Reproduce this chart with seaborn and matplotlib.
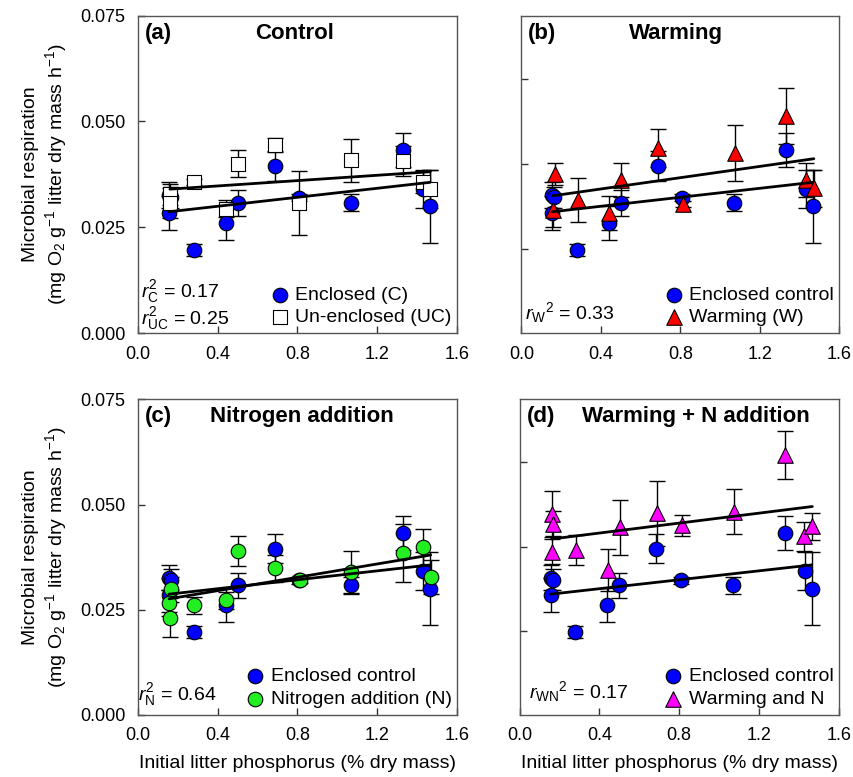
import numpy as np
import pandas as pd
import seaborn as sns
import matplotlib.pyplot as plt

# Enclosed control (same series in every panel)
p_enc = [0.155, 0.165, 0.155, 0.28, 0.44, 0.50, 0.685, 0.81, 1.07, 1.33, 1.43, 1.465]
r_enc = [0.0326, 0.0321, 0.0285, 0.0197, 0.0261, 0.0308, 0.0395, 0.0320, 0.0308, 0.0432, 0.0341, 0.0300]
e_enc = [0.0030, 0.0025, 0.0040, 0.0015, 0.0040, 0.0030, 0.0035, 0.0008, 0.0020, 0.0040, 0.0045, 0.0086]

# Un-enclosed control
p_uc = [0.16, 0.16, 0.28, 0.44, 0.50, 0.685, 0.81, 1.07, 1.33, 1.43, 1.465]
r_uc = [0.0328, 0.0308, 0.0357, 0.0294, 0.0400, 0.0445, 0.0307, 0.0408, 0.0406, 0.0357, 0.0340]
e_uc = [0.0025, 0.0035, 0.0008, 0.0020, 0.0032, 0.0017, 0.0075, 0.0050, 0.0035, 0.0025, 0.0045]

# Warming
p_w = [0.17, 0.158, 0.283, 0.443, 0.503, 0.689, 0.813, 1.074, 1.332, 1.43, 1.471]
r_w = [0.0376, 0.0291, 0.0315, 0.0283, 0.0362, 0.0437, 0.0305, 0.0425, 0.0514, 0.0362, 0.0342]
e_w = [0.0025, 0.0040, 0.0052, 0.0040, 0.0040, 0.0045, 0.0008, 0.0066, 0.0066, 0.0040, 0.0043]

# Nitrogen addition
p_n = [0.164, 0.156, 0.161, 0.279, 0.441, 0.50, 0.685, 0.814, 1.07, 1.327, 1.428, 1.468]
r_n = [0.0298, 0.0266, 0.0231, 0.0260, 0.0272, 0.0389, 0.0348, 0.0321, 0.0340, 0.0385, 0.0398, 0.0328]
e_n = [0.0030, 0.0030, 0.0046, 0.0020, 0.0020, 0.0035, 0.0032, 0.0008, 0.0050, 0.0068, 0.0045, 0.0040]

# Warming + N
p_wn = [0.162, 0.165, 0.16, 0.283, 0.442, 0.505, 0.69, 0.813, 1.073, 1.329, 1.424, 1.468]
r_wn = [0.0478, 0.0454, 0.0388, 0.0392, 0.0345, 0.0446, 0.0479, 0.0451, 0.0483, 0.0618, 0.0424, 0.0448]
e_wn = [0.0055, 0.0030, 0.0030, 0.0035, 0.0050, 0.0065, 0.0077, 0.0025, 0.0054, 0.0057, 0.0034, 0.0032]

sns.set_style("ticks")
plt.rcParams['font.family'] = ['Liberation Sans', 'DejaVu Sans']
plt.rcParams['mathtext.fontset'] = 'custom'
plt.rcParams['mathtext.rm'] = 'Liberation Sans'
plt.rcParams['mathtext.it'] = 'Liberation Sans:style=italic'
plt.rcParams['mathtext.bf'] = 'Liberation Sans:bold'
for key in ('text.color', 'axes.labelcolor', 'xtick.color', 'ytick.color'):
    plt.rcParams[key] = 'black'

fig = plt.figure(figsize=(8.54, 7.77), dpi=100)
ax_a = fig.add_axes([0.1616, 0.571, 0.3735, 0.409])
ax_b = fig.add_axes([0.6105, 0.571, 0.3725, 0.409])
ax_c = fig.add_axes([0.1616, 0.080, 0.3735, 0.406])
ax_d = fig.add_axes([0.6085, 0.080, 0.3735, 0.406])


def draw_series(ax, x, y, err, color, marker, label):
    df = pd.DataFrame({'p': x, 'r': y})
    ax.errorbar(x, y, yerr=err, fmt='none', ecolor='black', elinewidth=1,
                capsize=6, capthick=1, zorder=1)
    size = 125 if marker == '^' else 110
    sns.scatterplot(data=df, x='p', y='r', ax=ax, color=color, marker=marker,
                    s=size, edgecolor='black', linewidth=0.8, label=label, zorder=2)
    sns.regplot(data=df, x='p', y='r', ax=ax, scatter=False, ci=None,
                line_kws={'color': 'black', 'lw': 2, 'zorder': 3})


draw_series(ax_a, p_enc, r_enc, e_enc, '#0000ff', 'o', 'Enclosed (C)')
draw_series(ax_a, p_uc, r_uc, e_uc, 'white', 's', 'Un-enclosed (UC)')
draw_series(ax_b, p_enc, r_enc, e_enc, '#0000ff', 'o', 'Enclosed control')
draw_series(ax_b, p_w, r_w, e_w, '#ff0000', '^', 'Warming (W)')
draw_series(ax_c, p_enc, r_enc, e_enc, '#0000ff', 'o', 'Enclosed control')
draw_series(ax_c, p_n, r_n, e_n, '#22ee22', 'o', 'Nitrogen addition (N)')
draw_series(ax_d, p_enc, r_enc, e_enc, '#0000ff', 'o', 'Enclosed control')
draw_series(ax_d, p_wn, r_wn, e_wn, '#ff00ff', '^', 'Warming and N')

titles = [(ax_a, '(a)', 'Control', 0.49),
          (ax_b, '(b)', 'Warming', 0.485),
          (ax_c, '(c)', 'Nitrogen addition', 0.515),
          (ax_d, '(d)', 'Warming + N addition', 0.552)]
for ax, tag, name, xc in titles:
    ax.set_xlim(0, 1.6)
    ax.set_ylim(0, 0.075)
    ax.set_xticks([0.0, 0.4, 0.8, 1.2, 1.6])
    ax.set_xticklabels(['0.0', '0.4', '0.8', '1.2', '1.6'])
    ax.tick_params(direction='in', length=5, width=1, labelsize=13, pad=9, color='#333333')
    for sp in ax.spines.values():
        sp.set_visible(True)
        sp.set_color('#555555')
        sp.set_linewidth(1)
    ax.set_xlabel('')
    ax.set_ylabel('')
    ax.text(0.022, 0.945, tag, transform=ax.transAxes, fontsize=16,
            fontweight='bold', ha='left', va='center')
    ax.text(xc, 0.945, name, transform=ax.transAxes, fontsize=16,
            fontweight='bold', ha='center', va='center')
    ax.legend(loc='lower right', bbox_to_anchor=(1.02, -0.015), frameon=False,
              fontsize=14, handletextpad=0.2, handlelength=1.2,
              borderaxespad=0.2, labelspacing=0.25, markerscale=1.0)

for ax in (ax_a, ax_c):
    ax.set_yticks([0.0, 0.025, 0.05, 0.075])
    ax.set_yticklabels(['0.000', '0.025', '0.050', '0.075'])
    ax.set_ylabel('Microbial respiration\n(mg O$_2$ g$^{-1}$ litter dry mass h$^{-1}$)',
                  fontsize=14, labelpad=8)
for ax in (ax_b, ax_d):
    ax.set_yticks([0.02, 0.04, 0.06])
    ax.set_yticklabels([])
for ax in (ax_c, ax_d):
    ax.set_xlabel('Initial litter phosphorus (% dry mass)', fontsize=14, labelpad=8)

ax_a.text(0.01, 0.13, r'$\mathit{r}^2_{\mathrm{C}}$ = 0.17', transform=ax_a.transAxes,
          fontsize=14, ha='left', va='center')
ax_a.text(0.01, 0.045, r'$\mathit{r}^2_{\mathrm{UC}}$ = 0.25', transform=ax_a.transAxes,
          fontsize=14, ha='left', va='center')
ax_b.text(0.01, 0.065, r'$\mathit{r}_{\mathrm{W}}{}^2$ = 0.33', transform=ax_b.transAxes,
          fontsize=14, ha='left', va='center')
ax_c.text(0.0, 0.065, r'$\mathit{r}^2_{\mathrm{N}}$ = 0.64', transform=ax_c.transAxes,
          fontsize=14, ha='left', va='center')
ax_d.text(0.03, 0.075, r'$\mathit{r}_{\mathrm{WN}}{}^2$ = 0.17', transform=ax_d.transAxes,
          fontsize=14, ha='left', va='center')

fig.savefig('out.png', dpi=100)
